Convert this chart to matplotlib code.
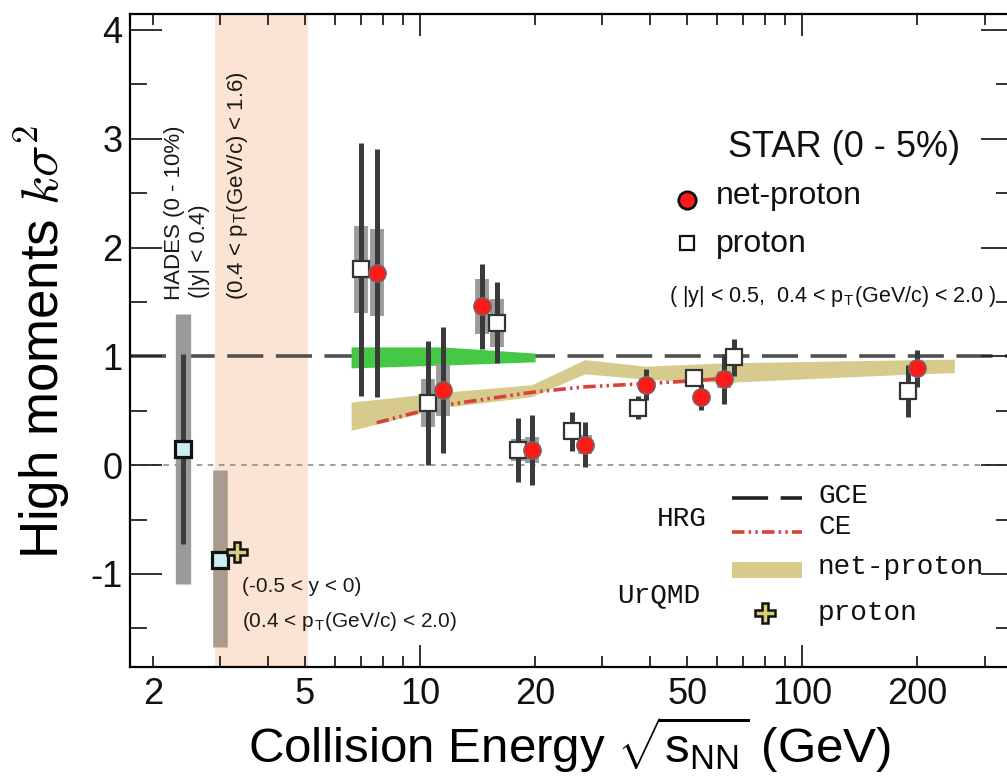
import numpy as np
import matplotlib
matplotlib.use("Agg")
import matplotlib.pyplot as plt
from matplotlib.ticker import FixedLocator, FuncFormatter, MultipleLocator
from matplotlib.patches import Rectangle
from matplotlib.lines import Line2D

plt.rcParams["font.family"] = ["Liberation Sans", "DejaVu Sans"]
plt.rcParams["mathtext.fontset"] = "cm"
plt.rcParams["axes.unicode_minus"] = False
plt.rcParams["lines.scale_dashes"] = False

# ---- STAR Au+Au, 0-5% central: kappa*sigma^2 vs collision energy ----
star_energy = [7.7, 11.5, 14.5, 19.6, 27.0, 39.0, 54.4, 62.4, 200.0]
netp_val = [1.77, 0.69, 1.46, 0.14, 0.19, 0.74, 0.63, 0.79, 0.89]
netp_stat = [1.14, 0.58, 0.39, 0.32, 0.21, 0.14, 0.12, 0.23, 0.17]
netp_sys = [0.40, 0.24, 0.25, 0.12, 0.09, 0.06, 0.05, 0.08, 0.06]
prot_val = [1.80, 0.57, 1.31, 0.14, 0.31, 0.53, 0.80, 0.99, 0.68]
prot_stat = [1.16, 0.57, 0.37, 0.29, 0.18, 0.11, 0.05, 0.17, 0.24]
prot_sys = [0.40, 0.22, 0.22, 0.10, 0.08, 0.05, 0.04, 0.06, 0.08]
# proton markers are nudged sideways (in decades) so they do not hide net-proton
prot_shift = [-0.042, -0.039, 0.039, -0.037, -0.034, -0.021, -0.018, 0.026, -0.024]

# HADES (0-10%) proton at 2.4 GeV
hades_energy = [2.4]
hades_val = [0.15]
hades_stat = [0.87]
hades_sys = [1.24]

# STAR fixed-target proton at 3 GeV
fxt_energy = [3.0]
fxt_val = [-0.87]
fxt_sys_lo = [0.80]
fxt_sys_hi = [0.83]

# UrQMD proton at 3 GeV
urqmd_p_energy = [3.0]
urqmd_p_val = [-0.80]
urqmd_p_shift = 0.044

# UrQMD net-proton band
urqmd_band_e = [6.6, 11.5, 19.6, 27.0, 39.0, 62.4, 200.0, 250.0]
urqmd_band_lo = [0.32, 0.53, 0.63, 0.84, 0.79, 0.76, 0.84, 0.85]
urqmd_band_hi = [0.58, 0.67, 0.74, 0.97, 0.91, 0.94, 0.97, 0.975]

# green band around unity at low energy
green_e = [6.6, 11.5, 20.0]
green_lo = [0.894, 0.92, 0.95]
green_hi = [1.087, 1.087, 1.03]

# HRG canonical ensemble
hrg_ce_e = [7.7, 11.5, 19.6, 27.0, 39.0, 54.4, 62.4]
hrg_ce_val = [0.39, 0.55, 0.67, 0.72, 0.75, 0.78, 0.80]

# HRG grand-canonical ensemble
hrg_gce_val = 1.0

# shaded acceptance region for the HADES comparison
shade_e = (2.9, 5.1)

W, H = 1007, 782
fig = plt.figure(figsize=(W / 100, H / 100), dpi=100)


def fpos(px, py):
    """Pixel position -> figure fraction."""
    return px / W, 1 - py / H


ax = fig.add_axes([130 / W, 1 - 667 / H, 883 / W, 653 / H])
ax.set_xscale("log")
ax.set_xlim(1.742, 356)
ax.set_ylim(-1.855, 4.147)

ax.axvspan(*shade_e, color="#fce4d4", lw=0, zorder=0)
ax.axhline(0, color="#8c8c8c", lw=1.2, ls=(0, (4, 4)), zorder=1)
ax.axhline(hrg_gce_val, color="#505050", lw=2.6, ls=(0, (26, 9)), zorder=1.5)

ax.fill_between(green_e, green_lo, green_hi, color="#45c845", lw=0, zorder=2)
ax.fill_between(urqmd_band_e, urqmd_band_lo, urqmd_band_hi, color="#d6cb8c", lw=0, zorder=2)
ce_style = (0, (9, 3, 1.8, 3, 1.8, 3))
ax.plot(hrg_ce_e, hrg_ce_val, color="#d8413c", lw=2.6, ls=ce_style, zorder=3)

e = np.array(star_energy)
ep = e * 10 ** np.array(prot_shift)
sys_c, stat_c = "#9c9c9c", "#3a3a3a"


def bars(x, y, lo, hi, color, width, z):
    y = np.asarray(y)
    ax.vlines(x, y - np.asarray(lo), y + np.asarray(hi), colors=color,
              linewidth=width, capstyle="butt", zorder=z)


# systematic (wide, light) and statistical (narrow, dark) errors
bars(ep, prot_val, prot_sys, prot_sys, sys_c, 10, 4)
bars(e, netp_val, netp_sys, netp_sys, sys_c, 10, 4)
bars(ep, prot_val, prot_stat, prot_stat, stat_c, 3.6, 5)
bars(e, netp_val, netp_stat, netp_stat, stat_c, 3.6, 5)
bars(hades_energy, hades_val, hades_sys, hades_sys, "#9a9a9a", 11, 4)
bars(hades_energy, hades_val, hades_stat, hades_stat, "#3d3d3d", 3.6, 5)
bars(fxt_energy, fxt_val, fxt_sys_lo, fxt_sys_hi, "#aa9b8f", 10.5, 4)

ax.plot(ep, prot_val, ls="none", marker="s", ms=12, mfc="white", mec="#333333",
        mew=1.6, zorder=6)
ax.plot(e, netp_val, ls="none", marker="o", ms=12.5, mfc="#ff1a1a", mec="#6a6a6a",
        mew=1.0, zorder=7)
ax.plot(hades_energy, hades_val, ls="none", marker="s", ms=12, mfc="#cdeeee",
        mec="#111111", mew=2.3, zorder=6)
ax.plot(fxt_energy, fxt_val, ls="none", marker="s", ms=12, mfc="#cdeeee",
        mec="#111111", mew=2.3, zorder=6)
ax.plot(np.array(urqmd_p_energy) * 10 ** urqmd_p_shift, urqmd_p_val, ls="none",
        marker="P", ms=15, mfc="#d9cd7a", mec="#111111", mew=1.8, zorder=6)

# ---- axes, ticks ----
for s in ax.spines.values():
    s.set_linewidth(1.6)
ax.xaxis.set_major_locator(FixedLocator([10, 100]))
ax.xaxis.set_minor_locator(FixedLocator([2, 3, 4, 5, 6, 7, 8, 9, 20, 30, 40, 50,
                                         60, 70, 80, 90, 200, 300]))
ax.xaxis.set_major_formatter(FuncFormatter(lambda v, p: f"{v:g}"))
labeled = {2, 5, 20, 50, 200}
ax.xaxis.set_minor_formatter(
    FuncFormatter(lambda v, p: f"{v:g}" if int(round(v)) in labeled else ""))
ax.yaxis.set_major_locator(FixedLocator([-1, 0, 1, 2, 3, 4]))
ax.yaxis.set_minor_locator(MultipleLocator(0.5))
ax.tick_params(axis="both", which="both", direction="in", top=True, right=True,
               width=1.3, color="#222222", labelsize=26, labelcolor="#111111")
ax.tick_params(axis="y", which="major", length=23, pad=5.5)
ax.tick_params(axis="y", which="minor", length=12)
ax.tick_params(axis="x", which="major", length=16, pad=7)
ax.tick_params(axis="x", which="minor", length=8, pad=7)

ax.set_xlabel(r"Collision Energy $\sqrt{\mathregular{s_{NN}}}$ (GeV)",
              fontsize=35.5, va="baseline")
ax.xaxis.set_label_coords(*fpos(570, 763), transform=fig.transFigure)
ax.set_ylabel(r"High moments $k\sigma^2$", fontsize=38, va="center", ha="center")
ax.yaxis.set_label_coords(*fpos(42, 342), transform=fig.transFigure)

# ---- annotations ----
tc = "#1a1a1a"
fig.text(*fpos(180, 300), "HADES (0 - 10%)", rotation=90, rotation_mode="anchor",
         ha="left", va="baseline", fontsize=16, color=tc)
fig.text(*fpos(205, 298), "(|y| < 0.4)", rotation=90, rotation_mode="anchor",
         ha="left", va="baseline", fontsize=16, color=tc)
fig.text(*fpos(243, 300), r"(0.4 < p$_{\mathregular{T}}$(GeV/c) < 1.6)", rotation=90,
         rotation_mode="anchor", ha="left", va="baseline", fontsize=16, color=tc)
fig.text(*fpos(242, 592), "(-0.5 < y < 0)", ha="left", va="baseline",
         fontsize=15, color=tc)
fig.text(*fpos(242, 627), r"(0.4 < p$_{\mathregular{T}}$(GeV/c) < 2.0)", ha="left",
         va="baseline", fontsize=15, color=tc)

# STAR legend
fig.text(*fpos(728, 157), "STAR (0 - 5%)", ha="left", va="baseline", fontsize=26,
         color="#111111")
fig.text(*fpos(716, 204), "net-proton", ha="left", va="baseline", fontsize=23,
         color="#111111")
fig.text(*fpos(716, 252), "proton", ha="left", va="baseline", fontsize=23,
         color="#111111")
fig.text(*fpos(669, 302),
         r"( |y| < 0.5,  0.4 < p$_{\mathregular{T}}$(GeV/c) < 2.0 )",
         ha="left", va="baseline", fontsize=15.5, color="#111111")
ax.add_line(Line2D([fpos(687, 200)[0]], [fpos(687, 200)[1]], transform=fig.transFigure,
                   ls="none", marker="o", ms=12.5, mfc="#ff1a1a", mec="#111111",
                   mew=2, clip_on=False))
ax.add_line(Line2D([fpos(687, 243)[0]], [fpos(687, 243)[1]], transform=fig.transFigure,
                   ls="none", marker="s", ms=10, mfc="white", mec="#111111",
                   mew=1.6, clip_on=False))

# model legend
mono = "Liberation Mono"
for txt, (x, y) in [("HRG", (657, 526)), ("UrQMD", (617, 602)),
                    ("GCE", (818, 503)), ("CE", (818, 534)),
                    ("net-proton", (818, 574)), ("proton", (818, 620))]:
    fig.text(*fpos(x, y), txt, ha="left", va="baseline", fontsize=20,
             family=mono, color="#111111")
x0, x1 = fpos(732, 0)[0], fpos(802, 0)[0]
ax.add_line(Line2D([x0, x1], [fpos(0, 498)[1]] * 2, transform=fig.transFigure,
                   color="#222222", lw=2.6, ls=(0, (26, 9)), clip_on=False))
ax.add_line(Line2D([x0, x1], [fpos(0, 532)[1]] * 2, transform=fig.transFigure,
                   color="#d8413c", lw=2.6, ls=ce_style, clip_on=False))
ax.add_patch(Rectangle(fpos(732, 578), x1 - x0, 16 / H, transform=fig.transFigure,
                       color="#d6cb8c", lw=0, clip_on=False))
ax.add_line(Line2D([fpos(765, 613)[0]], [fpos(765, 613)[1]], transform=fig.transFigure,
                   ls="none", marker="P", ms=15, mfc="#d9cd7a", mec="#111111",
                   mew=1.8, clip_on=False))

fig.savefig("out.png", dpi=100)
